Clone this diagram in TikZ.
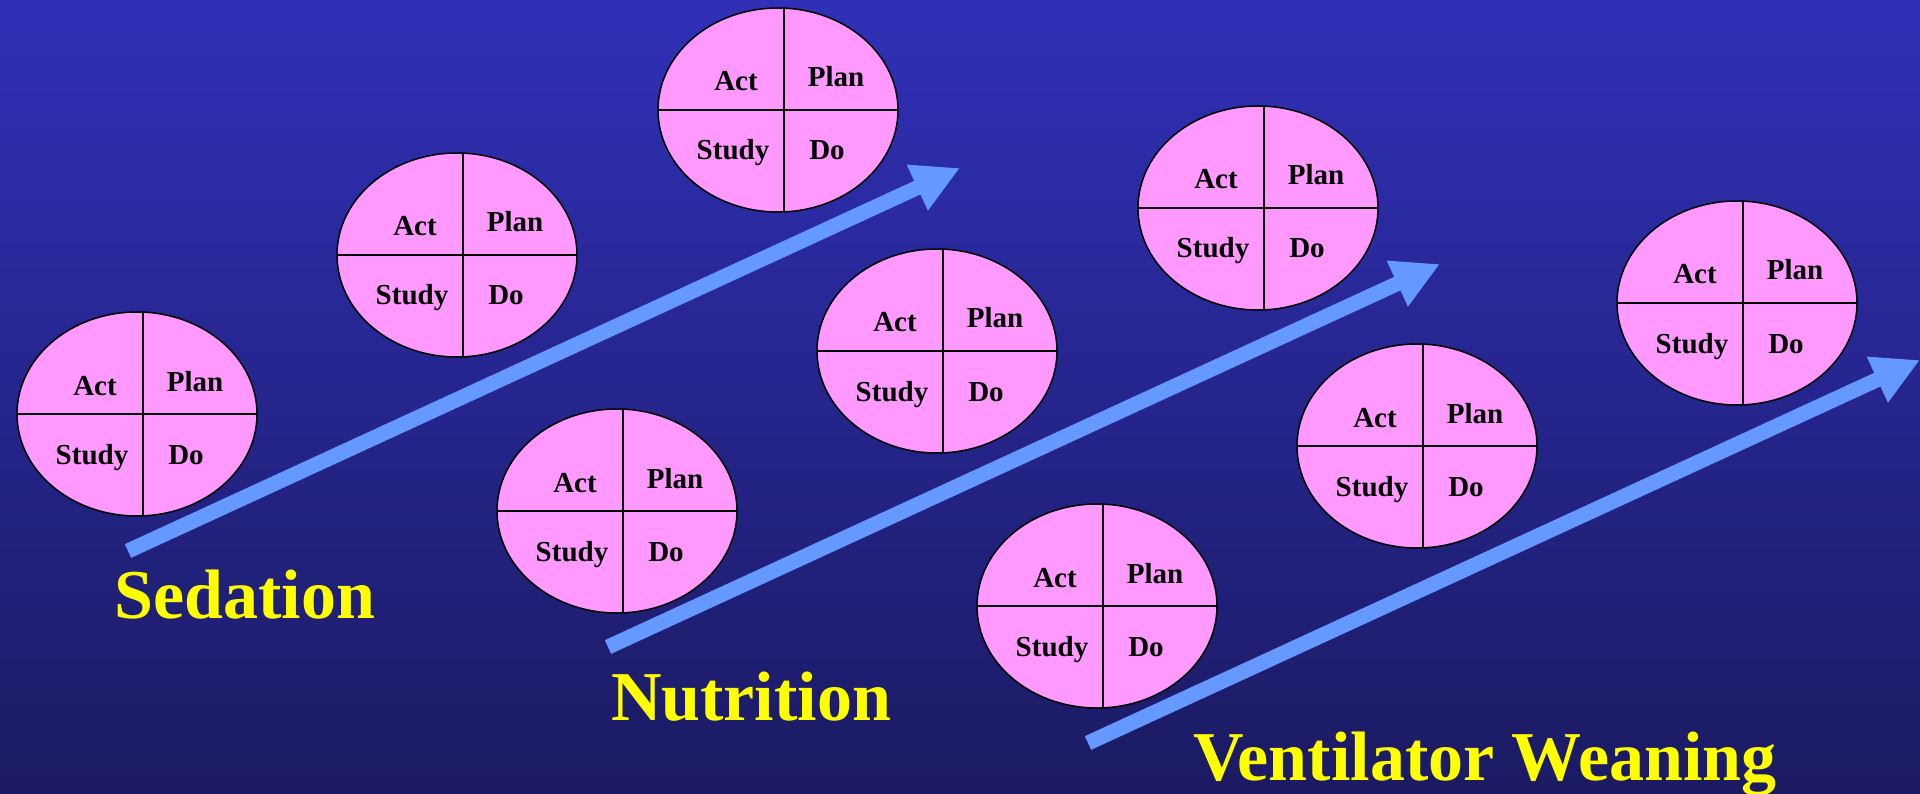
\documentclass[tikz,border=0pt]{standalone}
\usepackage{fontspec}
\setmainfont{Liberation Serif}
\usetikzlibrary{arrows.meta,shapes.geometric}

\definecolor{bgtop}{RGB}{48,48,184}
\definecolor{bgbot}{RGB}{27,26,98}
\definecolor{cyclefill}{RGB}{255,153,255}
\definecolor{arrowblue}{RGB}{102,153,255}
\definecolor{labelyellow}{RGB}{255,255,0}

\tikzset{
  pdsaoval/.style={ellipse, draw=black, fill=cyclefill, line width=1.5pt,
    minimum width=240pt, minimum height=204pt, inner sep=0pt, outer sep=0pt},
  divider/.style={draw=black, line width=1.5pt},
  quad/.style={anchor=base, inner sep=0pt, font=\fontsize{29}{34}\selectfont\bfseries},
  flowarrow/.style={draw=arrowblue, line width=15pt,
    -{Triangle[length=47pt,width=47pt]}},
  topic/.style={anchor=base, inner sep=0pt, text=labelyellow,
    font=\fontsize{70}{80}\selectfont\bfseries},
}

% One Plan-Do-Study-Act cycle: name, x, y of its centre
\newcommand\pdsacycle[3]{%
  \node[pdsaoval] (#1) at (#2,#3) {};
  \draw[divider] ([xshift=6pt]#1.north) -- ([xshift=6pt]#1.south);
  \draw[divider] (#1.west) -- (#1.east);
  \node[quad] (#1-act)   at ([shift={(-42,-19)}]#1.center) {Act};
  \node[quad] (#1-plan)  at ([shift={(58,-23)}]#1.center)  {Plan};
  \node[quad] (#1-study) at ([shift={(-45,50)}]#1.center)  {Study};
  \node[quad] (#1-do)    at ([shift={(49,50)}]#1.center)   {Do};
}

\begin{document}
\begin{tikzpicture}[x=1pt,y=-1pt]
  \useasboundingbox (0,0) rectangle (1920,794);
  \shade[top color=bgtop, bottom color=bgbot] (0,0) rectangle (1920,794);

  % Sedation track
  \coordinate (sedtail) at (128,551);
  \coordinate (sedtip)  at (960,168);
  \draw[flowarrow] (sedtail) -- (sedtip);
  \pdsacycle{sed1}{137}{414}
  \pdsacycle{sed2}{457}{255}
  \pdsacycle{sed3}{778}{110}
  \node[topic] (sedation) at (245,618) {Sedation};

  % Nutrition track
  \coordinate (nuttail) at (608,647);
  \coordinate (nuttip)  at (1440,264);
  \draw[flowarrow] (nuttail) -- (nuttip);
  \pdsacycle{nut1}{617}{511}
  \pdsacycle{nut2}{937}{351}
  \pdsacycle{nut3}{1258}{208}
  \node[topic] (nutrition) at (751,720) {Nutrition};

  % Ventilator weaning track
  \coordinate (ventail) at (1088,743);
  \coordinate (ventip)  at (1920,360);
  \draw[flowarrow] (ventail) -- (ventip);
  \pdsacycle{ven1}{1097}{606}
  \pdsacycle{ven2}{1417}{446}
  \pdsacycle{ven3}{1737}{303}
  \node[topic] (weaning) at (1485,780) {Ventilator Weaning};
\end{tikzpicture}
\end{document}
